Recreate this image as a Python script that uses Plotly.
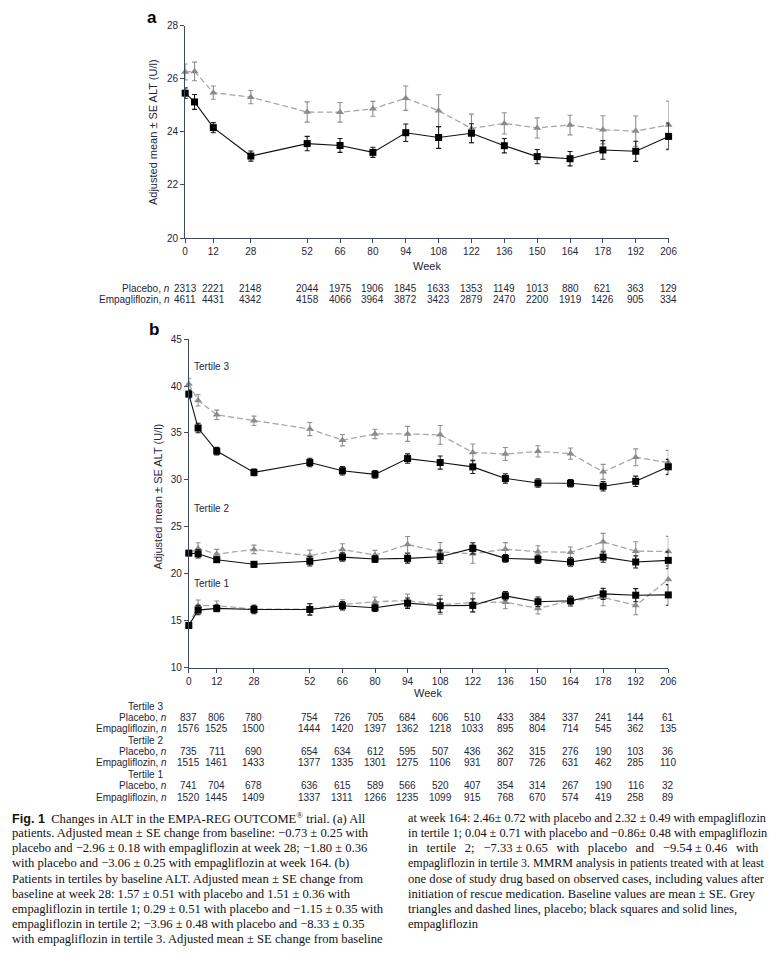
import plotly.graph_objects as go

# ---------------- data ----------------
weeks = [0, 4, 12, 28, 52, 66, 80, 94, 108, 122, 136, 150, 164, 178, 192, 206]
tick_weeks = [0, 12, 28, 52, 66, 80, 94, 108, 122, 136, 150, 164, 178, 192, 206]

# panel a: all patients
a_placebo = [26.26, 26.28, 25.48, 25.31, 24.75, 24.74, 24.87, 25.27, 24.80, 24.13, 24.32, 24.15, 24.26, 24.08, 24.03, 24.26]
a_placebo_se = [0.30, 0.35, 0.25, 0.25, 0.38, 0.37, 0.28, 0.46, 0.60, 0.54, 0.40, 0.38, 0.37, 0.53, 0.57, 0.90]
a_empa = [25.46, 25.13, 24.16, 23.09, 23.56, 23.49, 23.23, 23.97, 23.79, 23.95, 23.48, 23.07, 22.99, 23.32, 23.27, 23.83]
a_empa_se = [0.20, 0.28, 0.19, 0.19, 0.27, 0.26, 0.19, 0.33, 0.41, 0.36, 0.27, 0.27, 0.27, 0.35, 0.38, 0.50]

# panel b: tertiles
t3_placebo = [40.23, 38.47, 36.93, 36.30, 35.42, 34.23, 34.90, 34.90, 34.80, 32.93, 32.76, 33.04, 32.80, 30.86, 32.41, 31.85]
t3_placebo_se = [0.6, 0.6, 0.5, 0.5, 0.7, 0.6, 0.5, 0.8, 1.0, 0.9, 0.7, 0.6, 0.6, 0.8, 0.9, 1.3]
t3_empa = [39.14, 35.53, 33.07, 30.80, 31.85, 30.97, 30.59, 32.27, 31.85, 31.39, 30.16, 29.67, 29.64, 29.32, 29.85, 31.39]
t3_empa_se = [0.4, 0.5, 0.4, 0.35, 0.45, 0.45, 0.4, 0.5, 0.7, 0.7, 0.5, 0.45, 0.4, 0.5, 0.55, 0.8]

t2_placebo = [22.20, 22.70, 22.10, 22.60, 21.92, 22.60, 21.99, 23.12, 22.34, 22.13, 22.62, 22.34, 22.30, 23.40, 22.41, 22.38]
t2_placebo_se = [0.2, 0.6, 0.5, 0.45, 0.6, 0.6, 0.5, 0.85, 1.0, 1.0, 0.7, 0.65, 0.55, 0.9, 1.0, 1.6]
t2_empa = [22.20, 22.13, 21.50, 21.01, 21.33, 21.78, 21.57, 21.64, 21.82, 22.70, 21.64, 21.54, 21.26, 21.78, 21.26, 21.43]
t2_empa_se = [0.15, 0.45, 0.3, 0.3, 0.5, 0.45, 0.35, 0.5, 0.7, 0.6, 0.4, 0.45, 0.45, 0.55, 0.65, 0.9]

t1_placebo = [14.49, 16.60, 16.60, 16.24, 16.24, 16.73, 17.02, 17.15, 16.70, 16.94, 16.98, 16.31, 17.12, 17.50, 16.63, 19.40]
t1_placebo_se = [0.1, 0.6, 0.5, 0.4, 0.6, 0.5, 0.5, 0.7, 1.0, 1.0, 0.7, 0.6, 0.6, 0.9, 1.0, 1.5]
t1_empa = [14.49, 16.13, 16.31, 16.20, 16.20, 16.60, 16.38, 16.87, 16.60, 16.63, 17.65, 17.02, 17.12, 17.86, 17.72, 17.75]
t1_empa_se = [0.1, 0.5, 0.35, 0.45, 0.6, 0.45, 0.4, 0.55, 0.7, 0.7, 0.45, 0.5, 0.45, 0.6, 0.7, 1.1]

# numbers at risk
a_n_placebo = [2313, 2221, 2148, 2044, 1975, 1906, 1845, 1633, 1353, 1149, 1013, 880, 621, 363, 129]
a_n_empa = [4611, 4431, 4342, 4158, 4066, 3964, 3872, 3423, 2879, 2470, 2200, 1919, 1426, 905, 334]
t3_n_placebo = [837, 806, 780, 754, 726, 705, 684, 606, 510, 433, 384, 337, 241, 144, 61]
t3_n_empa = [1576, 1525, 1500, 1444, 1420, 1397, 1362, 1218, 1033, 895, 804, 714, 545, 362, 135]
t2_n_placebo = [735, 711, 690, 654, 634, 612, 595, 507, 436, 362, 315, 276, 190, 103, 36]
t2_n_empa = [1515, 1461, 1433, 1377, 1335, 1301, 1275, 1106, 931, 807, 726, 631, 462, 285, 110]
t1_n_placebo = [741, 704, 678, 636, 615, 589, 566, 520, 407, 354, 314, 267, 190, 116, 32]
t1_n_empa = [1520, 1445, 1409, 1337, 1311, 1266, 1235, 1099, 915, 768, 670, 574, 419, 258, 89]

WIDE = " \u00a0\u2009"  # wider inter-word gap used by the justified caption line
caption_left = [
    "<b style='font-family:Liberation Sans'>Fig. 1</b>  Changes in ALT in the EMPA-REG OUTCOME<sup>®</sup> trial. (a) All",
    "patients. Adjusted mean ± SE change from baseline: −0.73 ± 0.25 with",
    "placebo and −2.96 ± 0.18 with empagliflozin at week 28; −1.80 ± 0.36",
    "with placebo and −3.06 ± 0.25 with empagliflozin at week 164. (b)",
    "Patients in tertiles by baseline ALT. Adjusted mean ± SE change from",
    "baseline at week 28: 1.57 ± 0.51 with placebo and 1.51 ± 0.36 with",
    "empagliflozin in tertile 1; 0.29 ± 0.51 with placebo and −1.15 ± 0.35 with",
    "empagliflozin in tertile 2; −3.96 ± 0.48 with placebo and −8.33 ± 0.35",
    "with empagliflozin in tertile 3. Adjusted mean ± SE change from baseline",
]
caption_right = [
    "at week 164: 2.46± 0.72 with placebo and 2.32 ± 0.49 with empagliflozin",
    "in tertile 1; 0.04 ± 0.71 with placebo and −0.86± 0.48 with empagliflozin",
    WIDE.join(["in", "tertile", "2;", "−7.33 ± 0.65", "with", "placebo", "and", "−9.54 ± 0.46", "with"]),
    "empagliflozin in tertile 3. MMRM analysis in patients treated with at least",
    "one dose of study drug based on observed cases, including values after",
    "initiation of rescue medication. Baseline values are mean ± SE. Grey",
    "triangles and dashed lines, placebo; black squares and solid lines,",
    "empagliflozin",
]
caption_right_sizes = [12.2, 12.3, 12.6, 12.0, 12.6, 12.6, 12.6, 12.6]

# ---------------- styling ----------------
W, H = 780, 964
SANS = "Liberation Sans, Arial, sans-serif"
SERIF = "Liberation Serif, Times New Roman, serif"
TXT = "#1e2638"
AXC = "#3e4a5e"
PL_MARK = "#8a8a8a"
PL_LINE = "#a8a8a8"
PL_ERR = "#8f8f8f"


def px_x(p):
    return p / W


def px_y(p):
    return 1 - p / H


fig = go.Figure()


def add_pair(placebo, placebo_se, empa, empa_se, xa, ya):
    fig.add_trace(go.Scatter(
        x=weeks, y=placebo, mode="lines+markers", xaxis=xa, yaxis=ya,
        line=dict(color=PL_LINE, width=1.3, dash="6px,3px"),
        marker=dict(symbol="triangle-up", size=7, color=PL_MARK),
        error_y=dict(type="data", array=placebo_se, color=PL_ERR, thickness=1.1, width=2.5),
        cliponaxis=False, showlegend=False, hoverinfo="skip"))
    fig.add_trace(go.Scatter(
        x=weeks, y=empa, mode="lines+markers", xaxis=xa, yaxis=ya,
        line=dict(color="#111111", width=1.1),
        marker=dict(symbol="square", size=7, color="#000000"),
        error_y=dict(type="data", array=empa_se, color="#1a1a1a", thickness=1.1, width=2.5),
        cliponaxis=False, showlegend=False, hoverinfo="skip"))


add_pair(a_placebo, a_placebo_se, a_empa, a_empa_se, "x", "y")
add_pair(t3_placebo, t3_placebo_se, t3_empa, t3_empa_se, "x2", "y2")
add_pair(t2_placebo, t2_placebo_se, t2_empa, t2_empa_se, "x2", "y2")
add_pair(t1_placebo, t1_placebo_se, t1_empa, t1_empa_se, "x2", "y2")

axis_common = dict(showline=True, linecolor=AXC, linewidth=1, ticks="outside", ticklen=4,
                   tickcolor=AXC, tickwidth=1, showgrid=False, zeroline=False,
                   tickfont=dict(family=SANS, size=10, color=TXT))

fig.update_layout(
    width=W, height=H, margin=dict(l=0, r=0, t=0, b=0),
    paper_bgcolor="white", plot_bgcolor="white",
    font=dict(family=SANS, color=TXT),
    hovermode=False,
    xaxis=dict(domain=[px_x(185), px_x(676)], range=[0, 206], tickvals=tick_weeks,
               anchor="y", **axis_common),
    yaxis=dict(domain=[px_y(235), px_y(20)], range=[20, 28], tickvals=[20, 22, 24, 26, 28],
               anchor="x", **axis_common),
    xaxis2=dict(domain=[px_x(188.7), px_x(675.7)], range=[0, 206], tickvals=tick_weeks,
                anchor="y2", **axis_common),
    yaxis2=dict(domain=[px_y(670), px_y(337.3)], range=[10, 45], tickvals=[10, 15, 20, 25, 30, 35, 40, 45],
                anchor="x2", **axis_common),
)

ann = []


def add_text(text, x, y, xref="paper", yref="paper", xanchor="center", yanchor="middle",
             font=None, **kw):
    ann.append(dict(text=text, x=x, y=y, xref=xref, yref=yref, xanchor=xanchor,
                    yanchor=yanchor, showarrow=False, font=font, **kw))


# panel letters
add_text("<b>a</b>", px_x(151), px_y(12), font=dict(family=SANS, size=17, color="#000"))
add_text("<b>b</b>", px_x(153), px_y(328), font=dict(family=SANS, size=17, color="#000"))
# y titles
for yc, xc in ((128, 153), (497, 157)):
    add_text("Adjusted mean ± SE ALT (U/l)", px_x(xc), px_y(yc), textangle=-90,
             font=dict(family=SANS, size=11, color=TXT))
# x titles
add_text("Week", px_x(431), px_y(263), font=dict(family=SANS, size=11, color=TXT))
add_text("Week", px_x(432), px_y(696), font=dict(family=SANS, size=11, color=TXT))
# tertile labels inside panel b
for lbl, yv in (("Tertile 3", 42.1), ("Tertile 2", 27.0), ("Tertile 1", 18.95)):
    add_text(lbl, 1.5, yv, xref="x2", yref="y2", xanchor="left",
             font=dict(family=SANS, size=10, color=TXT))

tfont = dict(family=SANS, size=10, color=TXT)


def table_row(label, values, ypix, xref, label_right):
    add_text(label, px_x(label_right), px_y(ypix), xanchor="right", font=tfont)
    for wk, v in zip(tick_weeks, values):
        add_text(str(v), wk, px_y(ypix), xref=xref, font=tfont)


table_row("Placebo, <i>n</i>", a_n_placebo, 286, "x", 172)
table_row("Empagliflozin, <i>n</i>", a_n_empa, 297, "x", 172)

rows_b = [
    ("Tertile 3", None, 709), ("Placebo, <i>n</i>", t3_n_placebo, 720.5), ("Empagliflozin, <i>n</i>", t3_n_empa, 732),
    ("Tertile 2", None, 743.5), ("Placebo, <i>n</i>", t2_n_placebo, 755), ("Empagliflozin, <i>n</i>", t2_n_empa, 766.5),
    ("Tertile 1", None, 778), ("Placebo, <i>n</i>", t1_n_placebo, 789.5), ("Empagliflozin, <i>n</i>", t1_n_empa, 801),
]
for lbl, vals, yp in rows_b:
    if vals is None:
        table_row(lbl, [], yp, "x2", 165)
    else:
        table_row(lbl, vals, yp, "x2", 169)

# caption
for i, line in enumerate(caption_left):
    add_text(line, px_x(7), px_y(822 + 15.4 * i), xanchor="left",
             font=dict(family=SERIF, size=12.6, color="#111"))
for i, (line, fs) in enumerate(zip(caption_right, caption_right_sizes)):
    add_text(line, px_x(409), px_y(822 + 15.4 * i), xanchor="left",
             font=dict(family=SERIF, size=fs, color="#111"))

fig.update_layout(annotations=ann)
fig.write_html("out.html", config={"displayModeBar": False, "staticPlot": True},
               post_script="document.body.style.margin='0';document.body.style.padding='0';")
